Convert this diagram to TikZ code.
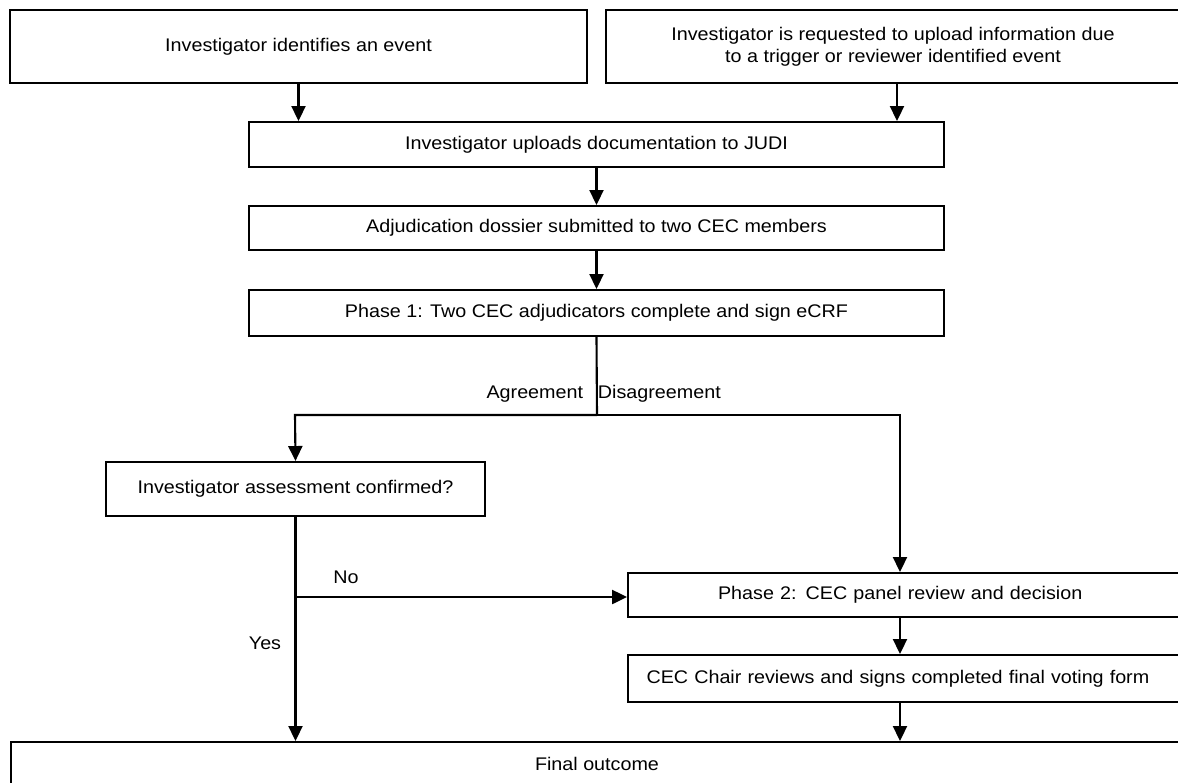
\documentclass[tikz,border=0pt]{standalone}
\usepackage{fontspec}
\setmainfont{Liberation Sans}[FakeStretch=1.08]
\usetikzlibrary{arrows.meta}

\begin{document}
\begin{tikzpicture}[>={Triangle[width=8pt,length=8.5pt]},x=0.02cm,y=-0.02cm,
  line width=1.2pt,
  every node/.style={font=\fontsize{10.4}{12.5}\selectfont},
  stage/.style={draw,rectangle,inner sep=2pt,align=center}]
\clip (0,0) rectangle (1178,782);
\node[stage,minimum width=11.54cm,minimum height=1.46cm] (ident) at (298.5,46.5) {Investigator identifies an event};
\node[stage,minimum width=11.48cm,minimum height=1.46cm] (request) at (893,46.5) {Investigator is requested to upload information due\\to a trigger or reviewer identified event};
\node[stage,minimum width=13.9cm,minimum height=0.9cm] (upload) at (596.5,144.5) {Investigator uploads documentation to JUDI};
\node[stage,minimum width=13.9cm,minimum height=0.88cm] (dossier) at (596.5,228) {Adjudication dossier submitted to two CEC members};
\node[stage,minimum width=13.9cm,minimum height=0.92cm] (phaseone) at (596.5,313) {Phase 1: Two CEC adjudicators complete and sign eCRF};
\node[stage,minimum width=7.58cm,minimum height=1.08cm] (confirm) at (295.5,489) {Investigator assessment confirmed?};
\node[stage,anchor=west,align=left,text width=7.6cm,inner xsep=1.8cm,minimum height=0.88cm] (phasetwo) at (627,595) {Phase 2: CEC panel review and decision};
\node[stage,anchor=west,align=left,text width=10.5cm,inner xsep=0.37cm,minimum height=0.94cm] (chair) at (627,678.5) {CEC Chair reviews and signs completed final voting form};
\node[stage,minimum width=23.44cm,minimum height=0.88cm] (final) at (597,764) {Final outcome};
\coordinate (reqdrop) at (897,83);
\coordinate (split) at (597,415);
\coordinate (agree) at (295,415);
\coordinate (disagree) at (900,415);
\coordinate (nobranch) at (295,597);
\draw[->] (ident.south) -- (ident.south |- upload.north);
\draw[->] (reqdrop) -- (reqdrop |- upload.north);
\draw[->] (upload) -- (dossier);
\draw[->] (dossier) -- (phaseone);
\draw (phaseone.south) -- (split);
\draw[->] (split) -- (agree) -- (confirm.north);
\draw[->] (split) -- (disagree) -- (disagree |- phasetwo.north);
\node[anchor=south east] (agreelbl) at (590,409) {Agreement};
\node[anchor=south west] (disagreelbl) at (591,409) {Disagreement};
\draw[->] (confirm.south) -- (confirm.south |- final.north);
\draw[->] (nobranch) -- (nobranch -| phasetwo.west);
\node (nolbl) at (346,577) {No};
\node (yeslbl) at (265,643) {Yes};
\draw[->] (disagree |- phasetwo.south) -- (disagree |- chair.north);
\draw[->] (disagree |- chair.south) -- (disagree |- final.north);
\end{tikzpicture}
\end{document}
